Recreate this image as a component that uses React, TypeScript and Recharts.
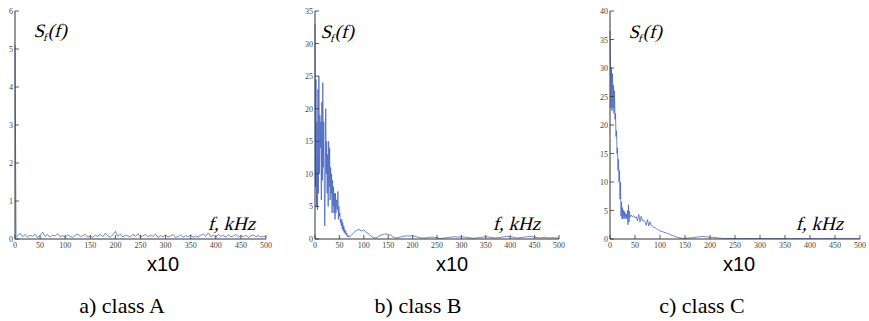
import React from "react";
import { Line, LineChart, XAxis, YAxis } from "recharts";

// x positions (x10 Hz units as on the axis) and spectrum values per class
const classAFreq = [0, 1, 2, 5, 10, 15, 20, 25, 30, 35, 40, 45, 50, 55, 60, 65, 70, 75, 80, 85, 90, 95, 100,
  105, 110, 115, 120, 125, 130, 135, 140, 145, 150, 155, 160, 165, 170, 175, 180, 185, 190, 195, 200,
  205, 210, 215, 220, 225, 230, 235, 240, 245, 250, 255, 260, 265, 270, 275, 280, 285, 290, 295, 300,
  305, 310, 315, 320, 325, 330, 335, 340, 345, 350, 355, 360, 365, 370, 375, 380, 385, 390, 395, 400,
  405, 410, 415, 420, 425, 430, 435, 440, 445, 450, 455, 460, 465, 470, 475, 480, 485, 490, 495, 500];
const classAValues = [5.1, 2.6, 0.05, 0.08, 0.15, 0.06, 0.12, 0.05, 0.1, 0.07, 0.13, 0.04, 0.09, 0.18, 0.07, 0.12, 0.05, 0.1, 0.08, 0.14, 0.06, 0.09, 0.05,
  0.11, 0.07, 0.04, 0.1, 0.13, 0.06, 0.09, 0.12, 0.05, 0.08, 0.04, 0.1, 0.07, 0.12, 0.06, 0.15, 0.08, 0.05, 0.11, 0.2,
  0.07, 0.13, 0.05, 0.1, 0.08, 0.06, 0.12, 0.07, 0.14, 0.05, 0.09, 0.12, 0.06, 0.1, 0.07, 0.13, 0.04, 0.09, 0.06, 0.11,
  0.05, 0.08, 0.12, 0.04, 0.07, 0.1, 0.05, 0.09, 0.06, 0.11, 0.04, 0.08, 0.05, 0.1, 0.13, 0.07, 0.16, 0.06, 0.1, 0.05,
  0.12, 0.07, 0.09, 0.05, 0.11, 0.06, 0.08, 0.12, 0.05, 0.09, 0.06, 0.1, 0.04, 0.08, 0.11, 0.06, 0.09, 0.05, 0.07, 0.06];

const classBFreq = [0, 1, 2, 3, 4, 5, 6, 7, 8, 9, 10, 11, 12, 13, 14, 15, 16, 17, 18, 19, 20, 21, 22, 23, 24, 25,
  26, 27, 28, 29, 30, 31, 32, 33, 34, 35, 36, 37, 38, 39, 40, 41, 42, 43, 44, 45, 46, 47, 48, 49, 50,
  51, 52, 53, 54, 55, 56, 57, 58, 59, 60, 61, 62, 63, 64, 65, 66, 67, 68, 69, 70,
  75, 80, 85, 90, 95, 100, 105, 110, 115, 120, 125, 130, 135, 140, 145, 150, 155, 160, 165, 170, 175, 180,
  185, 190, 195, 200, 205, 210, 215, 220, 225, 230, 235, 240, 245, 250, 255, 260, 265, 270, 275, 280,
  285, 290, 295, 300, 305, 310, 315, 320, 325, 330, 335, 340, 345, 350, 355, 360, 365, 370, 375, 380,
  385, 390, 395, 400, 405, 410, 415, 420, 425, 430, 435, 440, 445, 450, 455, 460, 465, 470, 475, 480,
  485, 490, 495, 500];
const classBValues = [33, 8, 24.5, 5, 18, 4.5, 23, 7, 25, 10, 19, 14, 18, 6, 21, 9, 24, 11, 18, 9, 2, 8, 20, 10, 15, 7,
  13, 5, 15, 8, 14, 6, 11, 7, 10, 4, 9, 5, 8, 4, 7, 3, 7, 4, 6, 5, 4.5, 7.3, 3, 5, 3.5,
  4, 2.5, 3, 2, 3, 1.5, 2.5, 1.2, 2, 1, 1.5, 0.8, 1.2, 0.6, 0.9, 0.4, 0.6, 0.3, 0.5, 0.3,
  0.6, 1.0, 1.3, 1.5, 1.2, 1.4, 1.0, 0.8, 0.4, 0.2, 0.15, 0.4, 0.6, 0.7, 0.8, 0.7, 0.6, 0.3, 0.15, 0.2, 0.3, 0.4,
  0.45, 0.5, 0.45, 0.5, 0.4, 0.3, 0.2, 0.15, 0.15, 0.2, 0.25, 0.3, 0.25, 0.2, 0.1, 0.1, 0.15, 0.2, 0.25, 0.3,
  0.35, 0.3, 0.3, 0.35, 0.3, 0.25, 0.2, 0.15, 0.1, 0.15, 0.2, 0.25, 0.3, 0.35, 0.3, 0.25, 0.2, 0.15, 0.2, 0.25,
  0.3, 0.35, 0.4, 0.35, 0.3, 0.2, 0.15, 0.2, 0.25, 0.3, 0.35, 0.4, 0.35, 0.3, 0.2, 0.15, 0.2, 0.25, 0.2, 0.15,
  0.2, 0.2, 0.15, 0.2];

const classCFreq = [0, 1, 2, 3, 4, 5, 6, 7, 8, 9, 10, 11, 12, 13, 14, 15, 16, 17, 18, 19, 20, 21, 22, 23, 24, 25,
  26, 27, 28, 29, 30, 31, 32, 33, 34, 35, 36, 37, 38, 39, 40,
  42.5, 45, 47.5, 50, 52.5, 55, 57.5, 60, 62.5, 65, 67.5, 70, 72.5, 75, 77.5, 80, 82.5, 85, 87.5, 90, 92.5, 95, 97.5, 100,
  105, 110, 115, 120, 125, 130, 135, 140, 145, 150, 155, 160, 165, 170, 175, 180, 185, 190, 195, 200,
  205, 210, 215, 220, 225, 230, 240, 250, 260, 270, 280, 290, 300, 320, 340, 360, 380, 400, 420, 440, 460, 480, 500];
const classCValues = [36.5, 31, 23, 30, 22.5, 29, 23, 27, 22, 26, 21, 22, 18, 19, 15, 16, 12, 14, 10, 12, 7, 10, 4, 6.5, 3.5, 5.5,
  3.5, 5, 3.8, 4.8, 3.5, 4.5, 3.8, 4.3, 3.5, 5, 2.5, 6, 3, 4.8, 3.8,
  4.2, 3.9, 4.1, 3.7, 3.9, 3.2, 4.3, 3, 4, 3.2, 3.3, 3, 2.4, 3.4, 2.3, 3, 2.4, 2.3, 2.0, 2.0, 1.8, 1.7, 1.6, 1.4,
  1.3, 1.1, 1.0, 0.8, 0.6, 0.45, 0.3, 0.2, 0.1, 0.1, 0.15, 0.2, 0.2, 0.3, 0.35, 0.4, 0.45, 0.4, 0.35, 0.3,
  0.3, 0.25, 0.2, 0.15, 0.1, 0.1, 0.08, 0.1, 0.06, 0.08, 0.1, 0.07, 0.09, 0.06, 0.08, 0.05, 0.07, 0.06, 0.05, 0.06, 0.05, 0.05, 0.06];

const xTicks = [0, 50, 100, 150, 200, 250, 300, 350, 400, 450, 500];
const yTicksA = [0, 1, 2, 3, 4, 5, 6];
const yTicksB = [0, 5, 10, 15, 20, 25, 30, 35];
const yTicksC = [0, 5, 10, 15, 20, 25, 30, 35, 40];

const captions = ["a) class A", "b) class B", "c) class C"];

const AXIS = "#333";
const TICK_FONT = "Liberation Sans Narrow";
const SERIF = "Liberation Serif";
const SANS = "Liberation Sans";

const BottomTick: React.FC<any> = ({ x, y, payload }) => (
  <g>
    <line x1={x} y1={y} x2={x} y2={y - 4} stroke={AXIS} strokeWidth={0.8} />
    <text x={x} y={y + 9} textAnchor="middle" fill="#444" fontFamily={TICK_FONT} fontSize={8}>
      {payload.value}
    </text>
  </g>
);

const TopTick: React.FC<any> = ({ x, y }) => (
  <line x1={x} y1={y} x2={x} y2={y + 4} stroke={AXIS} strokeWidth={0.8} />
);

const LeftTick: React.FC<any> = ({ x, y, payload }) => (
  <g>
    <line x1={x} y1={y} x2={x + 4} y2={y} stroke={AXIS} strokeWidth={0.8} />
    <text x={x - 2} y={y + 3} textAnchor="end" fill="#444" fontFamily={TICK_FONT} fontSize={8}>
      {payload.value}
    </text>
  </g>
);

const RightTick: React.FC<any> = ({ x, y }) => (
  <line x1={x} y1={y} x2={x - 4} y2={y} stroke={AXIS} strokeWidth={0.8} />
);

interface PanelProps {
  freq: number[];
  values: number[];
  yTicks: number[];
  left: number;
  width: number;
  yAxisWidth: number;
}

const Panel: React.FC<PanelProps> = ({ freq, values, yTicks, left, width, yAxisWidth }) => {
  const data = freq.map((f, i) => ({ f, v: values[i] }));
  const yMax = yTicks[yTicks.length - 1];
  return (
    <div style={{ position: "absolute", left, top: 0 }}>
      <LineChart width={width} height={255} data={data} margin={{ top: 11, right: 9, left: 0, bottom: 0 }}>
        <XAxis
          dataKey="f"
          type="number"
          domain={[0, 500]}
          ticks={xTicks}
          interval={0}
          height={16}
          tickSize={0}
          tickMargin={0}
          tickLine={false}
          stroke={AXIS}
          tick={<BottomTick />}
        />
        <XAxis
          xAxisId="top"
          orientation="top"
          dataKey="f"
          type="number"
          domain={[0, 500]}
          ticks={xTicks}
          interval={0}
          height={0}
          tickSize={0}
          tickMargin={0}
          tickLine={false}
          stroke={AXIS}
          tick={<TopTick />}
        />
        <YAxis
          type="number"
          domain={[0, yMax]}
          ticks={yTicks}
          interval={0}
          width={yAxisWidth}
          tickSize={0}
          tickMargin={0}
          tickLine={false}
          stroke={AXIS}
          tick={<LeftTick />}
          allowDataOverflow
        />
        <YAxis
          yAxisId="right"
          orientation="right"
          type="number"
          domain={[0, yMax]}
          ticks={yTicks}
          interval={0}
          width={0}
          tickSize={0}
          tickMargin={0}
          tickLine={false}
          stroke={AXIS}
          tick={<RightTick />}
        />
        <Line
          dataKey="v"
          type="linear"
          stroke="#4866c2"
          strokeWidth={0.8}
          dot={false}
          isAnimationActive={false}
        />
      </LineChart>
    </div>
  );
};

// HTML labels; baseline ≈ top + 0.84 * fontSize with lineHeight 1
const label = (left: number, baseline: number, size: number): React.CSSProperties => ({
  position: "absolute",
  left,
  top: baseline - 0.84 * size,
  fontSize: size,
  lineHeight: 1,
  whiteSpace: "nowrap",
  color: "#000",
});

// no italic serif face is installed, so the serif regular is slanted by hand
const slant: React.CSSProperties = {
  fontFamily: SERIF,
  fontStyle: "normal",
  transform: "skewX(-14deg)",
  transformOrigin: "left bottom",
};

const SfLabel: React.FC<{ x: number; y: number }> = ({ x, y }) => (
  <div style={{ ...label(x, y, 19), ...slant }}>
    S<span style={{ fontSize: 11, verticalAlign: -4 }}>f</span>(f)
  </div>
);

const FLabel: React.FC<{ x: number; y: number }> = ({ x, y }) => (
  <div style={{ ...label(x, y, 19), ...slant }}>f, kHz</div>
);

export default function App() {
  return (
    <div style={{ position: "absolute", left: 0, top: 0, width: 869, height: 321, background: "#fff" }}>
      <Panel freq={classAFreq} values={classAValues} yTicks={yTicksA} left={0} width={275} yAxisWidth={15} />
      <Panel freq={classBFreq} values={classBValues} yTicks={yTicksB} left={290} width={278} yAxisWidth={25} />
      <Panel freq={classCFreq} values={classCValues} yTicks={yTicksC} left={580} width={289} yAxisWidth={30} />
      <SfLabel x={32} y={37} />
      <SfLabel x={319} y={38} />
      <SfLabel x={627} y={38} />
      <FLabel x={207} y={230} />
      <FLabel x={492} y={230} />
      <FLabel x={795} y={230} />
      {[163, 452, 739].map((cx) => (
        <div key={cx} style={{ ...label(cx - 40, 271, 20), width: 80, textAlign: "center", fontFamily: SANS }}>
          x10
        </div>
      ))}
      {captions.map((c, i) => (
        <div key={c} style={{ ...label([122, 418, 702][i] - 60, 313, 22), width: 120, textAlign: "center", fontFamily: SERIF }}>
          {c}
        </div>
      ))}
    </div>
  );
}
